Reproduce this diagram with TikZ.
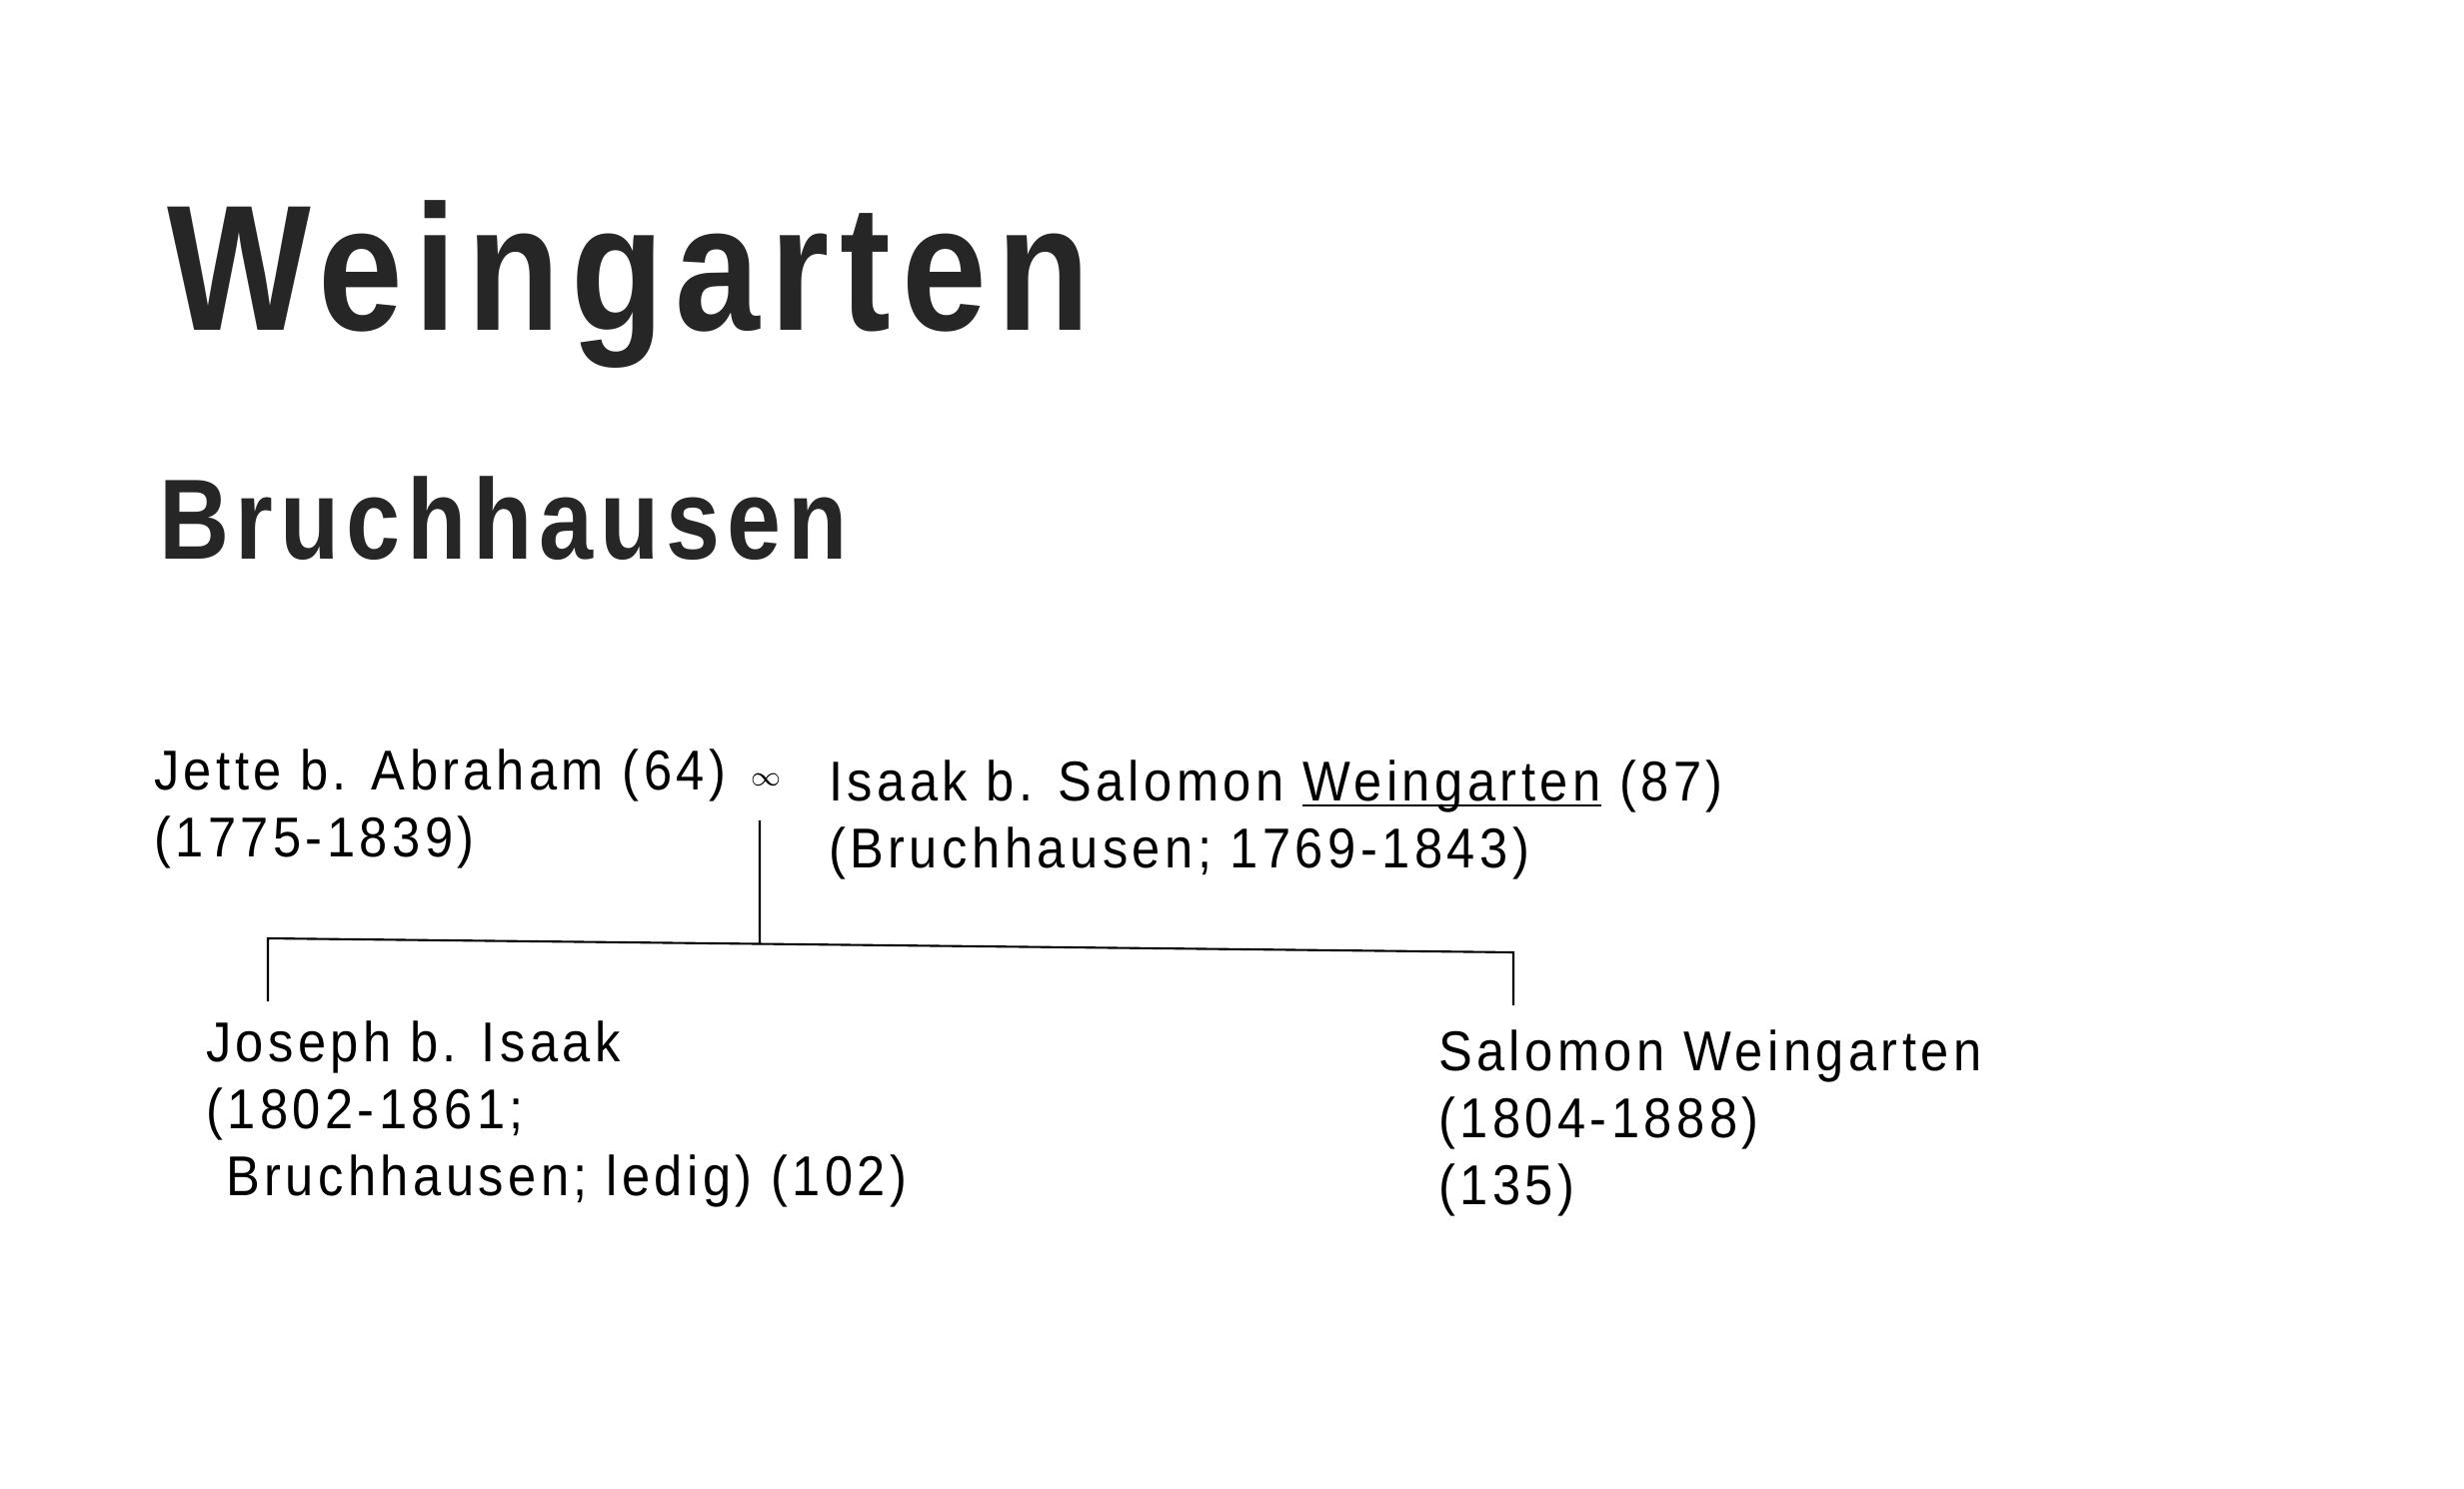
\documentclass[tikz,border=0pt]{standalone}
\usepackage{fontspec}
\setmainfont{Liberation Sans}[FakeStretch=0.9, LetterSpace=8]
\newfontfamily\headfont{Liberation Sans}[FakeStretch=0.85, LetterSpace=6]
\usetikzlibrary{intersections}

\begin{document}
\begin{tikzpicture}[line width=0.6pt,
                    kin/.style={anchor=base west, inner sep=0pt, align=left, font=\fontsize{16}{19}\selectfont},
                    head/.style={anchor=base west, inner sep=0pt, text=black!85}]
\useasboundingbox (0,0) rectangle (24.65,-14.90);

\node[head, font=\headfont\bfseries\fontsize{51}{60}\selectfont] (family) at (1.66,-3.31) {Weingarten};
\node[head, font=\headfont\bfseries\fontsize{32.5}{40}\selectfont] (village) at (1.58,-5.60) {Bruchhausen};

% parents (base = last line)
\node[kin] (jette) at (1.53,-8.57) {Jette b. Abraham (64)\\(1775-1839)};
\node[kin] (wed) at (7.50,-7.86) {\footnotesize$\infty$};
\node[kin] (isaak) at (8.28,-8.68) {Isaak b. Salomon \underline{\smash{Weingarten}} (87)\\(Bruchhausen; 1769-1843)};

% children
\node[kin] (joseph) at (2.05,-11.96) {Joseph b. Isaak\\(1802-1861;\\\hspace{0.2cm}Bruchhausen; ledig) (102)};
\node[kin] (salomon) at (14.38,-12.05) {Salomon Weingarten\\(1804-1888)\\(135)};

\coordinate (barW) at (2.68,-9.39);
\coordinate (barE) at (15.14,-9.53);
\coordinate (jdrop) at (2.68,-10.02);
\coordinate (sdrop) at (15.14,-10.06);
\coordinate (stem) at ([xshift=-0.06cm,yshift=-0.34cm]wed.south);
\path[name path=bar] (barW) -- (barE);
\path[name path=drop] (stem) -- ++(0,-3);
\path[name intersections={of=bar and drop, by=fork}];

\draw (stem) -- (fork);
\draw (jdrop) -- (barW) -- (barE) -- (sdrop);
\end{tikzpicture}
\end{document}
